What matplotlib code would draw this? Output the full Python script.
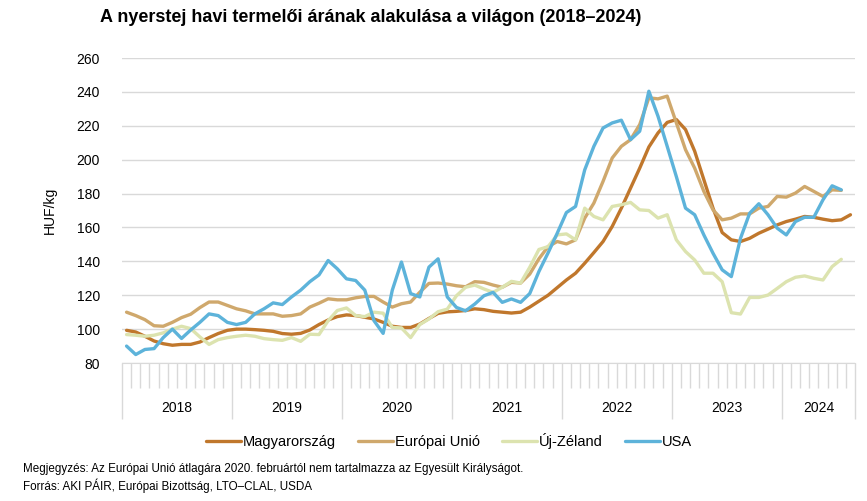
import matplotlib
matplotlib.use('Agg')
import matplotlib.pyplot as plt
import matplotlib.transforms as mtransforms
import numpy as np

plt.rcParams['font.family'] = ['Liberation Sans', 'DejaVu Sans']

# Monthly producer prices, HUF/kg, Jan 2018 onwards
years = ['2018', '2019', '2020', '2021', '2022', '2023', '2024']
months_per_year = [12, 12, 12, 12, 12, 12, 8]

hungary = [99.3, 98.3, 95.8, 93, 91.4, 90.5, 91, 91, 92.4, 95, 97.4, 99.3,
           100, 100, 99.7, 99.3, 98.7, 97.4, 97, 97.5, 99.5, 102.7, 105.4, 107.4,
           108.4, 108, 107, 106, 104, 101.7, 101, 101, 103, 106.3, 109.3, 110.2,
           110.5, 111, 112, 111.5, 110.5, 110, 109.5, 110, 113, 116.5, 120, 124.5,
           129, 133, 138.9, 145.2, 151.7, 160.6, 171.4, 183.2, 195, 207.5, 215.8, 222,
           223.7, 217.8, 205, 188.2, 171.4, 157, 152.7, 151.7, 153.6, 156.6, 159, 161.5,
           163.5, 164.9, 166.5, 166, 164.9, 164, 164.5, 167.5]
eu = [110, 108, 105.6, 102, 101.7, 104, 106.8, 108.8, 112.7, 116, 116, 114,
      112, 110.8, 109, 109, 109, 107.6, 108, 109, 113, 115.3, 117.9, 117.3,
      117.3, 118.5, 119.3, 119.3, 116, 113, 115, 116, 121.8, 127, 127.2, 126.6,
      125.6, 125, 128, 127.6, 126, 124.7, 127.6, 127.2, 132.5, 141.5, 148.7, 151.7,
      150.3, 152.7, 165.5, 174.4, 187.2, 201, 207.9, 211.8, 220.7, 236.5, 235.9, 237.5,
      221.7, 205.9, 195, 181.3, 170.4, 164.5, 165.5, 168, 168, 171.4, 172.4, 178.3,
      177.9, 180.3, 184.2, 181.3, 178.3, 182.2, 181.9]
nz = [96.8, 96.4, 95.8, 96.4, 97.8, 100, 101.7, 100.3, 95.4, 91, 93.8, 95,
      95.8, 96.4, 95.8, 94.4, 93.8, 93.4, 95, 92.8, 97, 96.8, 105, 111,
      112.5, 108, 107.4, 110, 109.4, 101, 100.7, 95, 102.7, 106, 110.3, 111.8,
      119.7, 124.7, 126, 123.7, 121.7, 124.7, 128.2, 127.2, 136.5, 147, 148.7, 155.6,
      156.2, 152.7, 171.4, 166.5, 164.5, 172.4, 173.4, 174.8, 170.4, 170, 165.5, 167.5,
      152.7, 145.8, 140.8, 133, 133, 128, 109.7, 108.9, 118.7, 118.7, 120.1, 124,
      128, 130.6, 131.4, 130, 129, 136.9, 141.2]
usa = [90, 85, 88, 88.5, 95, 100, 94.5, 99.5, 104, 109, 108, 104,
       102.7, 104, 109, 112, 115.5, 114.5, 119, 123, 128, 132, 140.5, 135.6,
       129.7, 128.7, 123, 105, 97.5, 123, 139.6, 121, 119, 136.6, 141.5, 119,
       112.8, 110.8, 114.8, 119.7, 121.7, 115.8, 117.8, 115.8, 121, 134, 145, 156.6,
       168.8, 172.4, 194, 207.9, 218.7, 221.7, 223.3, 211.8, 216.8, 240.4, 225.6, 207.9,
       190, 171.4, 167.5, 155.6, 144.8, 135, 131, 153.6, 168.4, 174, 167.5, 159.6,
       155.6, 163.5, 166, 166, 176.3, 184.6, 182.2]

series = [('Magyarország', hungary, '#C0772C'),
          ('Európai Unió', eu, '#CFA86C'),
          ('Új-Zéland', nz, '#DCE3AF'),
          ('USA', usa, '#5DB3DA')]

n_months = sum(months_per_year)

fig = plt.figure(figsize=(8.67, 5.01), dpi=100)
ax = fig.add_axes([0.1407, 0.2754, 0.8455, 0.6088])

for name, vals, col in series:
    ax.plot(np.arange(len(vals)), vals, color=col, lw=2.4, label=name,
            solid_joinstyle='round', solid_capstyle='round')

ax.set_xlim(-0.5, n_months - 0.5)
ax.set_ylim(80, 260)
ax.set_yticks(np.arange(80, 261, 20))
ax.yaxis.grid(True, color='#D9D9D9', lw=1)
ax.set_axisbelow(True)
for s in ['top', 'right', 'left']:
    ax.spines[s].set_visible(False)
ax.spines['bottom'].set_color('#D9D9D9')
ax.tick_params(axis='y', length=0, labelsize=10, pad=16, colors='#000000')

# month ticks and year separators
bounds = np.cumsum([0] + months_per_year) - 0.5
ax.set_xticks(bounds)
ax.set_xticklabels([])
ax.set_xticks(np.arange(n_months + 1) - 0.5, minor=True)
ax.tick_params(axis='x', which='major', length=40, width=1, color='#D9D9D9')
ax.tick_params(axis='x', which='minor', length=18, width=1, color='#D9D9D9')

trans = mtransforms.blended_transform_factory(ax.transData, ax.transAxes)
for k, yr in enumerate(years):
    c = (bounds[k] + bounds[k + 1]) / 2
    ax.text(c, -0.148, yr, transform=trans, ha='center', va='center', fontsize=10)

ax.set_ylabel('HUF/kg', fontsize=10, labelpad=14)

fig.text(0.1153, 0.966, 'A nyerstej havi termelői árának alakulása a világon (2018–2024)',
         fontsize=13, fontweight='bold', ha='left', va='center')

fig.legend(loc='center', bbox_to_anchor=(0.518, 0.119), ncol=4, frameon=False,
           fontsize=10.5, handlelength=2.4, handletextpad=0.15, columnspacing=1.5)

fig.text(0.026, 0.064, 'Megjegyzés: Az Európai Unió átlagára 2020. februártól nem tartalmazza az Egyesült Királyságot.',
         fontsize=8.4, ha='left', va='center')
fig.text(0.026, 0.030, 'Forrás: AKI PÁIR, Európai Bizottság, LTO–CLAL, USDA',
         fontsize=8.4, ha='left', va='center')

fig.savefig('out.png', dpi=100)
